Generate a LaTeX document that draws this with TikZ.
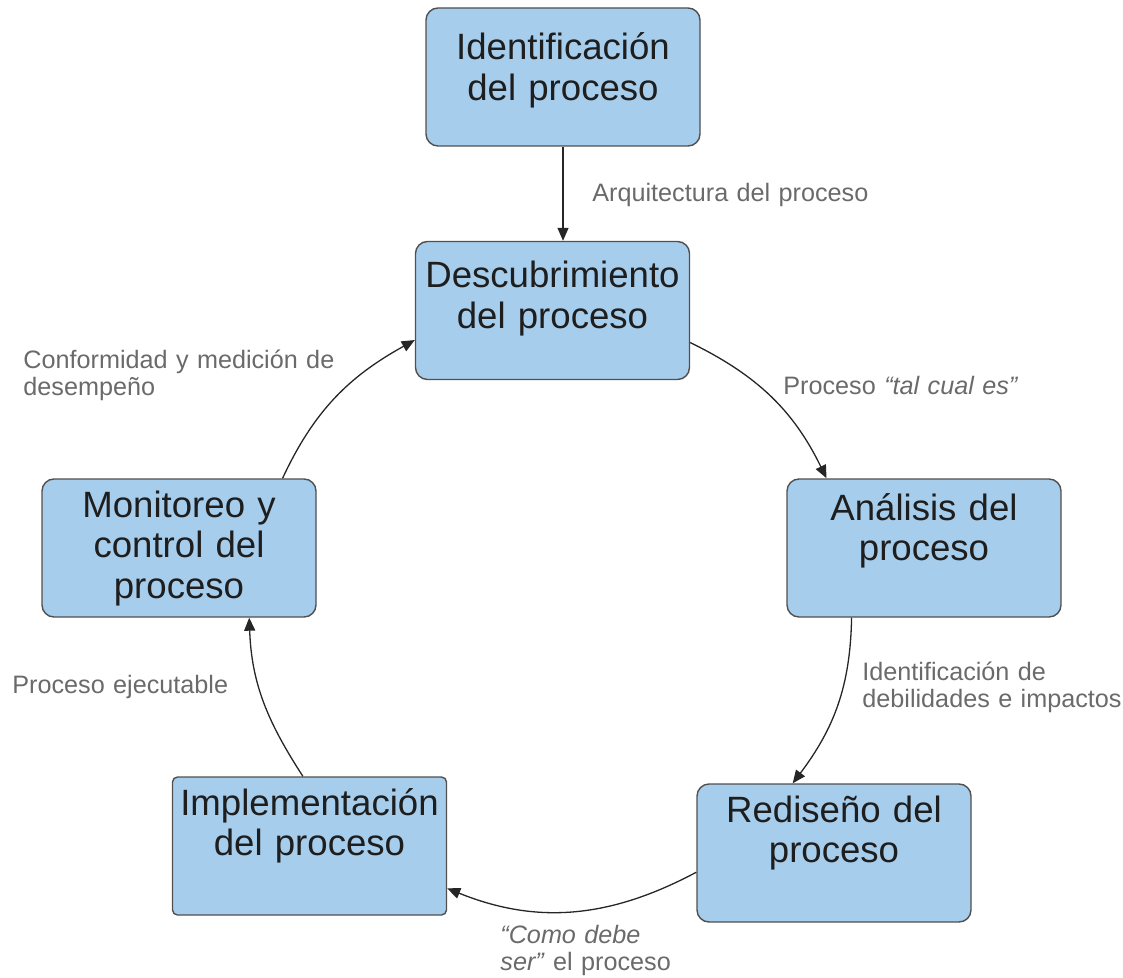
\documentclass[tikz,border=0pt]{standalone}
\usepackage{fontspec}
\setmainfont{Liberation Sans}
\usetikzlibrary{arrows.meta,calc}
\definecolor{boxfill}{HTML}{A7CDEC}
\definecolor{boxline}{HTML}{505050}
\definecolor{lblgray}{HTML}{6A6A6A}
\definecolor{boxtext}{HTML}{1E1E1E}
\begin{document}
\begin{tikzpicture}[x=0.5pt,y=-0.5pt,
  stage/.style={draw=boxline, line width=0.7pt, fill=boxfill, rounded corners=6pt,
    minimum width=137pt, minimum height=69pt, inner sep=0pt},
  stagetext/.style={text=boxtext, font=\fontsize{18.3}{20.3}\selectfont,
    text width=137pt, align=center, inner sep=0pt, anchor=base},
  lbl/.style={text=lblgray, font=\fontsize{12.6}{13.7}\selectfont,
    text width=170pt, align=left, inner sep=0pt, anchor=base west},
  flow/.style={draw=black!85, line width=0.65pt, -{Triangle[length=6.5pt,width=5.5pt]}}
]
\useasboundingbox (0,0) rectangle (1123,978);

% boxes
\node[stage] (B1) at (563,77) {};
\node[stage] (B2) at (552.5,310.5) {};
\node[stage] (B3) at (924,548) {};
\node[stage] (B4) at (834,853) {};
\node[stage, rounded corners=2.5pt] (B5) at (309.5,846) {};
\node[stage] (B6) at (179,548) {};

% box texts
\node[stagetext] (T1) at (563,60) {Identificación\\del proceso};
\node[stagetext] (T2) at (552.5,288) {Descubrimiento\\del proceso};
\node[stagetext] (T3) at (924,520) {Análisis del\\proceso};
\node[stagetext] (T4) at (834,822) {Rediseño del\\proceso};
\node[stagetext] (T5) at (309.5,815) {Implementación\\del proceso};
\node[stagetext] (T6) at (179,517) {Monitoreo y\\control del\\proceso};

% labels
\node[lbl] (L1) at (592,202) {Arquitectura del proceso};
\node[lbl] (L2) at (783,394) {Proceso \textit{“tal cual es”}};
\node[lbl] (L3) at (862,680) {Identificación de\\debilidades e impactos};
\node[lbl] (L4) at (23,368) {Conformidad y medición de\\desempeño};
\node[lbl] (L5) at (12,693) {Proceso ejecutable};
\node[lbl] (L6) at (500,943) {\textit{“Como debe}\\\textit{ser”} el proceso};

% connectors
\draw[flow] (B1.south) -- (B1.south |- B2.north);
\draw[flow] ($(B2.north east)!0.73!(B2.south east)$) to[out=-26,in=116]
  ($(B3.north west)!0.146!(B3.north east)$);
\draw[flow] ($(B3.south west)!0.237!(B3.south east)$) to[out=-91,in=53]
  ($(B4.north west)!0.35!(B4.north east)$);
\draw[flow] ($(B4.north west)!0.638!(B4.south west)$) to[out=-152,in=-22]
  ($(B5.north east)!0.804!(B5.south east)$);
\draw[flow] ($(B5.north west)!0.476!(B5.north east)$) to[out=123,in=-88]
  ($(B6.south west)!0.755!(B6.south east)$);
\draw[flow] ($(B6.north west)!0.876!(B6.north east)$) to[out=65,in=-151]
  ($(B2.north west)!0.712!(B2.south west)$);
\end{tikzpicture}
\end{document}
